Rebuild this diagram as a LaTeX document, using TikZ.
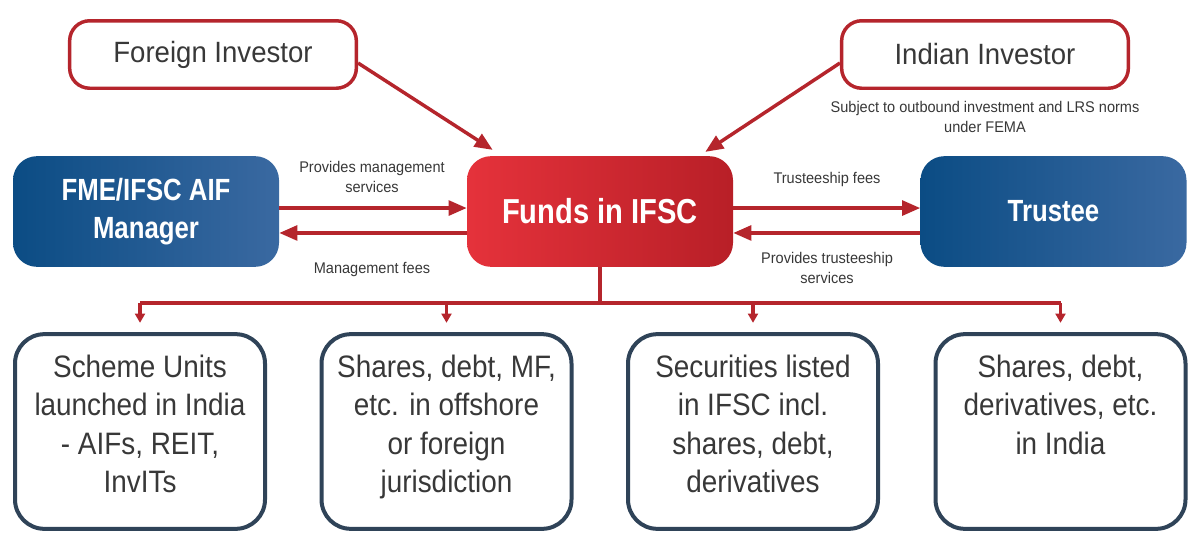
\documentclass[tikz,border=0pt]{standalone}
\usepackage{fontspec}
\setmainfont{Liberation Sans}[FakeStretch=0.94]
\newfontfamily\bnarrow{Liberation Sans}[FakeStretch=0.84]
\newfontfamily\lnarrow{Liberation Sans}[FakeStretch=0.90]
\usetikzlibrary{arrows.meta,calc}
\definecolor{redline}{HTML}{B5252C}
\definecolor{redL}{HTML}{E5323B}
\definecolor{redR}{HTML}{B81F27}
\definecolor{blueL}{HTML}{0B4C84}
\definecolor{blueR}{HTML}{3A69A1}
\definecolor{slate}{HTML}{2F4358}
\definecolor{txt}{HTML}{383838}
\tikzset{
  inv/.style={draw=redline, line width=2.6pt, rounded corners=15pt, minimum width=215pt, minimum height=50.6pt, inner sep=0pt, text=txt, font=\fontsize{22}{26}\selectfont},
  bluebox/.style={rounded corners=18pt, left color=blueL, right color=blueR, minimum width=199.5pt, minimum height=83pt, inner sep=0pt, text=white, align=center, font=\bnarrow\bfseries\fontsize{23}{28.5}\selectfont},
  redbox/.style={rounded corners=18pt, left color=redL, right color=redR, minimum width=199.5pt, minimum height=83pt, inner sep=0pt, text=white, align=center, font=\bnarrow\bfseries\fontsize{26}{30}\selectfont},
  leaf/.style={draw=slate, line width=3pt, rounded corners=22pt, minimum width=187.5pt, minimum height=146pt, inner sep=0pt},
  leaftext/.style={anchor=north, inner sep=0pt, align=center, text=txt, font=\lnarrow\fontsize{23.25}{28.9}\selectfont},
  lbl/.style={anchor=north, inner sep=0pt, align=center, text=txt, font=\fontsize{11.6}{15}\selectfont},
  arr/.style={draw=redline, line width=2.6pt, -{Triangle[length=13.5pt,width=11pt]}},
  tree/.style={draw=redline, line width=2.3pt},
  tarr/.style={draw=redline, line width=2.3pt, -{Triangle[length=7pt,width=7.5pt]}},
}
\begin{document}
\begin{tikzpicture}[x=0.75pt,y=-0.75pt]
\useasboundingbox[fill=white] (0,0) rectangle (1200,550);

% top investor boxes
\node[inv] (FI) at (213,54.5) {Foreign Investor};
\node[inv] (II) at (985,54.5) {Indian Investor};
\node[lbl] (note) at (985,101) {Subject to outbound investment and LRS norms\\under FEMA};

% middle row
\node[bluebox] (FME) at (146,211.5) {FME/IFSC AIF\\Manager};
\node[redbox] (FUND) at (600,211.5) {Funds in IFSC};
\node[bluebox] (TR) at (1053.5,211.5) {Trustee};

% labels
\node[lbl] (l1) at (372,161) {Provides management\\services};
\node[lbl] (l2) at (372,262) {Management fees};
\node[lbl] (l3) at (827,172) {Trusteeship fees};
\node[lbl] (l4) at (827,252) {Provides trusteeship\\services};

% arrows middle
\draw[arr] ([yshift=2.6pt]FME.east) -- ([yshift=2.6pt]FUND.west);
\draw[arr] ([yshift=-16.1pt]FUND.west) -- ([yshift=-16.1pt]FME.east);
\draw[arr] ([yshift=2.6pt]FUND.east) -- ([yshift=2.6pt]TR.west);
\draw[arr] ([yshift=-16.1pt]TR.west) -- ([yshift=-16.1pt]FUND.east);

% investor arrows
\draw[arr] ([yshift=-6.4pt]FI.east) -- ([xshift=19.5pt,yshift=4.5pt]FUND.north west);
\draw[arr] ([yshift=-6.4pt]II.west) -- ([xshift=-21pt,yshift=3pt]FUND.north east);

% bottom boxes
\node[leaf] (L1) at (140,431.5) {};
\node[leaf] (L2) at (446.5,431.5) {};
\node[leaf] (L3) at (753,431.5) {};
\node[leaf] (L4) at (1060.5,431.5) {};
\node[leaftext] (T1) at (140,354.5) {Scheme Units\\launched in India\\- AIFs, REIT,\\InvITs};
\node[leaftext] (T2) at (446.5,354.5) {Shares, debt, MF,\\etc. in offshore\\or foreign\\jurisdiction};
\node[leaftext] (T3) at (753,354.5) {Securities listed\\in IFSC incl.\\shares, debt,\\derivatives};
\node[leaftext] (T4) at (1060.5,354.5) {Shares, debt,\\derivatives, etc.\\in India};

% tree
\coordinate (bus) at (600,303);
\draw[tree] (FUND.south) -- (bus);
\draw[tree] (L1.north |- bus) -- (L4.north |- bus);
\foreach \n in {L1,L2,L3,L4}
  \draw[tarr, shorten >=7pt] (\n.north |- bus) -- (\n.north);
\end{tikzpicture}
\end{document}
